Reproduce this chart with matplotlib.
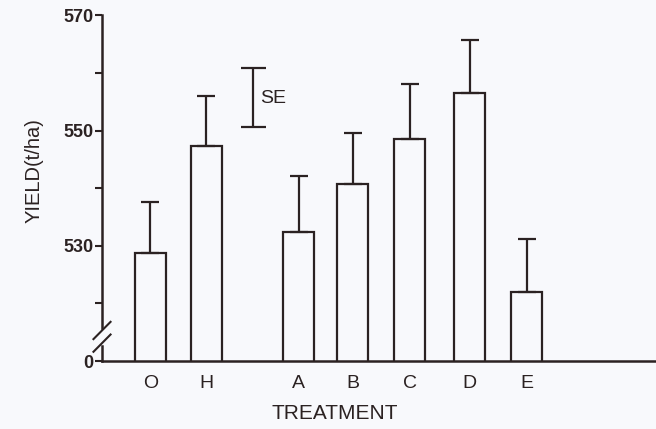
import matplotlib
matplotlib.use("Agg")
import matplotlib.pyplot as plt
from matplotlib.lines import Line2D

treatments = ["O", "H", "A", "B", "C", "D", "E"]
yield_vals = [528.8, 547.3, 532.4, 540.7, 548.6, 556.6, 522.0]
se_vals = [8.8, 8.8, 9.7, 8.9, 9.5, 9.2, 9.2]
ytick_vals = [510, 530, 550, 570]
ytick_labels = ["0", "530", "550", "570"]
minor_vals = [520, 540, 560]
se_ref = 10.2  # length of the SE key bar

x_pos = [0, 0.98, 2.6, 3.55, 4.55, 5.6, 6.6]
ink = "#2b2222"
bg = "#f8f9fc"

plt.rcParams['font.family'] = ['Liberation Sans', 'DejaVu Sans']

fig = plt.figure(figsize=(6.56, 4.29), dpi=100, facecolor=bg)
ax = fig.add_axes([0.1555, 0.1585, 0.8445, 0.8054], facecolor=bg)

ax.bar(x_pos, yield_vals, width=0.55, bottom=0, color="none",
       edgecolor=ink, linewidth=1.6, zorder=3)
ax.errorbar(x_pos, yield_vals, yerr=[[0] * len(se_vals), se_vals], fmt="none",
            ecolor=ink, elinewidth=1.6, capsize=6.5, capthick=1.6, zorder=3)

# SE key
ax.errorbar([1.8], [555.8], yerr=[[se_ref / 2], [se_ref / 2]], fmt="none",
            ecolor=ink, elinewidth=1.6, capsize=9, capthick=1.6)
ax.text(1.93, 555.6, "SE", fontsize=14, color=ink, va="center", ha="left")

ax.set_xlim(-0.85, 8.87)
ax.set_ylim(510, 570)

ax.set_xticks(x_pos)
ax.set_xticklabels(treatments, fontsize=14, color=ink)
ax.tick_params(axis="x", length=0, pad=10)
ax.set_yticks(ytick_vals)
ax.set_yticklabels(ytick_labels, fontsize=13, color=ink, fontweight="bold")
ax.set_yticks(minor_vals, minor=True)
ax.tick_params(axis="y", which="both", length=5, width=1.5, color=ink, pad=1)

for side in ["top", "right"]:
    ax.spines[side].set_visible(False)
ax.spines["bottom"].set_linewidth(1.8)
ax.spines["bottom"].set_color(ink)
ax.spines["left"].set_visible(False)

# broken y axis with slash marks
ax.add_line(Line2D([-0.85, -0.85], [515.7, 570], color=ink, lw=1.8, clip_on=False))
ax.add_line(Line2D([-0.85, -0.85], [510, 512.6], color=ink, lw=1.8, clip_on=False))
ax.add_line(Line2D([-1.0, -0.7], [513.8, 516.8], color=ink, lw=1.5, clip_on=False))
ax.add_line(Line2D([-1.0, -0.7], [511.6, 514.6], color=ink, lw=1.5, clip_on=False))

ax.set_xlabel("TREATMENT", fontsize=15, color=ink)
ax.xaxis.set_label_coords(0.42, -0.125)
ax.set_ylabel("YIELD(t/ha)", fontsize=14.5, color=ink)
ax.yaxis.set_label_coords(-0.105, 0.55)

fig.savefig("out.png", dpi=100, facecolor=bg)
